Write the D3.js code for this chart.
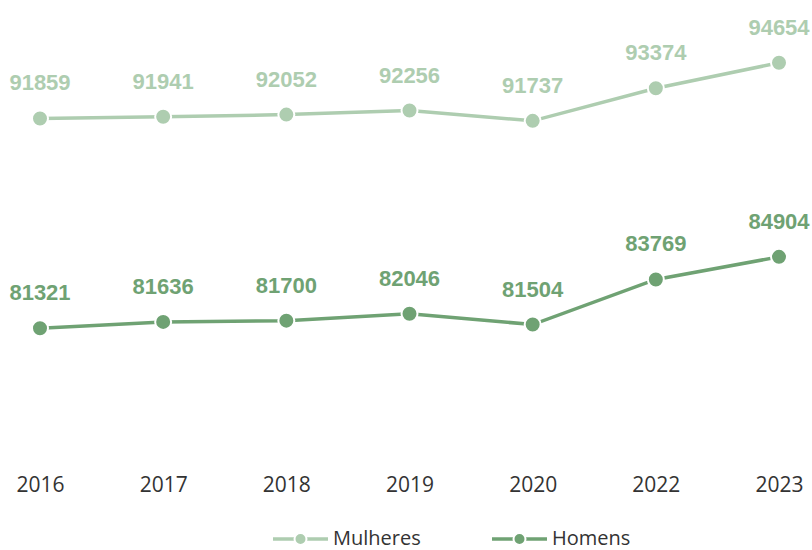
<!DOCTYPE html>
<html><head><meta charset="utf-8">
<script src="https://cdn.jsdelivr.net/npm/d3@7"></script>
<style>body{margin:0;background:#fff}</style>
</head><body>
<svg id="c" width="812" height="550"></svg>
<script>
const years = ["2016","2017","2018","2019","2020","2022","2023"];
const mulheres = [91859, 91941, 92052, 92256, 91737, 93374, 94654];
const homens = [81321, 81636, 81700, 82046, 81504, 83769, 84904];
const seriesNames = ["Mulheres", "Homens"];
const colors = ["#aecdb0", "#6fa273"];

const svg = d3.select("#c");
const x = d3.scalePoint().domain(years).range([40, 779]);
const y = d3.scaleLinear().domain([75000, 96000]).range([454, 36]);

const series = [mulheres, homens];
series.forEach((vals, si) => {
  const data = years.map((yr, i) => ({yr, v: vals[i]}));
  svg.append("path").datum(data)
    .attr("fill", "none").attr("stroke", colors[si]).attr("stroke-width", 3.5)
    .attr("d", d3.line().x(d => x(d.yr)).y(d => y(d.v)));
  svg.selectAll(null).data(data).enter().append("circle")
    .attr("cx", d => x(d.yr)).attr("cy", d => y(d.v)).attr("r", 8)
    .attr("fill", colors[si]).attr("stroke", "#fff").attr("stroke-width", 2);
  svg.selectAll(null).data(data).enter().append("text")
    .attr("x", d => x(d.yr)).attr("y", d => y(d.v) - 28)
    .attr("text-anchor", "middle")
    .attr("font-family", "Liberation Sans, Arial, sans-serif")
    .attr("font-weight", "bold").attr("font-size", 22)
    .attr("fill", colors[si]).text(d => d.v);
});

const xAxis = svg.append("g").attr("transform", "translate(0,470)")
  .call(d3.axisBottom(x).tickSize(0).tickPadding(0));
xAxis.select(".domain").remove();
xAxis.selectAll("text").attr("font-family", "Open Sans, sans-serif").attr("font-size", 21)
  .attr("fill", "#333").attr("dy", "0").attr("y", 22);

const legendX = [273, 492];
seriesNames.forEach((n, i) => {
  const g = svg.append("g").attr("transform", `translate(${legendX[i]},539)`);
  g.append("line").attr("x1", 0).attr("x2", 55).attr("stroke", colors[i]).attr("stroke-width", 3.5);
  g.append("circle").attr("cx", 27.5).attr("r", 6).attr("fill", colors[i]).attr("stroke", "#fff").attr("stroke-width", 2);
  g.append("text").attr("x", 60).attr("y", 6).attr("font-family", "Open Sans, sans-serif")
    .attr("font-size", 20).attr("fill", "#333").text(n);
});
</script>
</body></html>
